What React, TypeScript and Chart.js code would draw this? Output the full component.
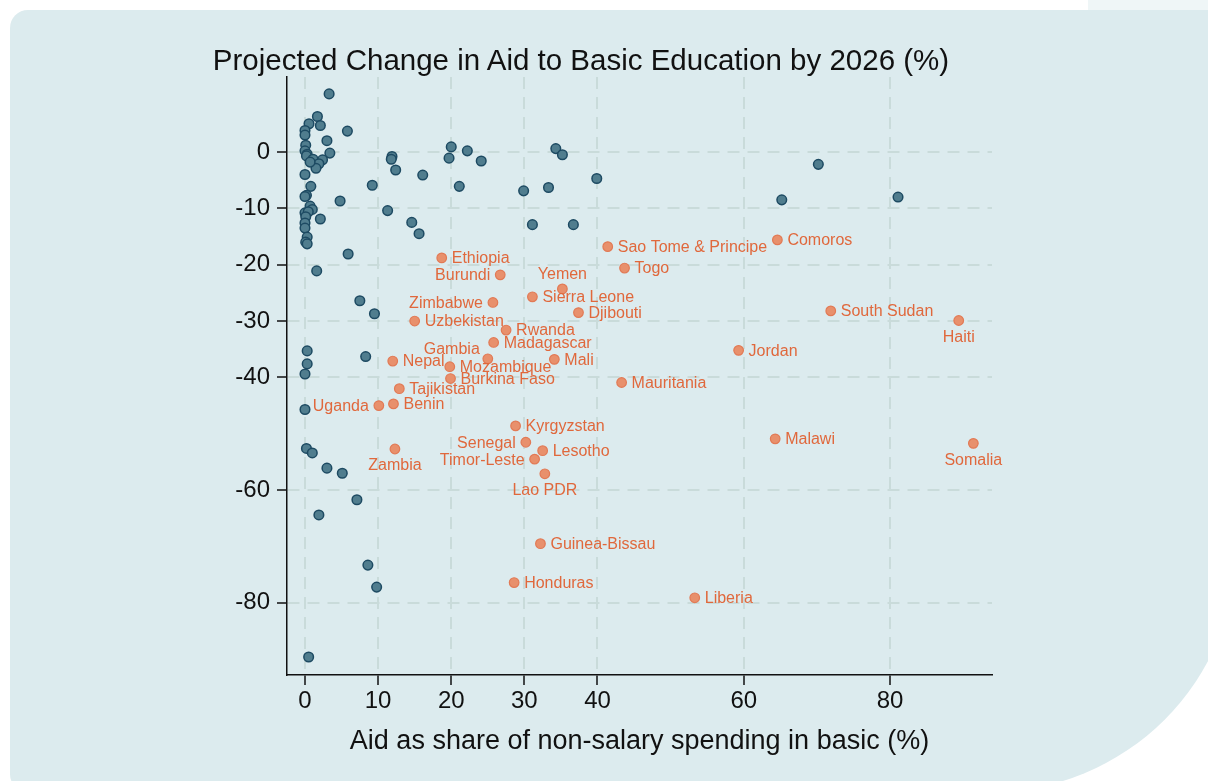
import React, { useEffect, useRef } from 'react';
import { Chart, registerables } from 'chart.js';

Chart.register(...registerables);

const FONT = '"Liberation Sans", Arial, Helvetica, sans-serif';

const chartTitle = 'Projected Change in Aid to Basic Education by 2026 (%)';
const xAxisTitle = 'Aid as share of non-salary spending in basic (%)';

const xTickValues = [0, 10, 20, 30, 40, 60, 80];
const yTickValues = [0, -10, -20, -30, -40, -60, -80];

// Unlabelled countries (dark markers)
const otherX = [
  3.3, 1.7, 0.55, 2.1, 5.8, 0.0, 0.0, 3.0, 0.1, 3.4, 0.0, 0.3, 0.2, 1.1, 2.4, 1.9, 1.5, 0.7, 0.0,
  11.9, 11.8, 12.4, 16.1, 20.0, 22.2, 19.7, 24.1, 21.1, 0.8, 9.2, 4.8, 0.2, 0.0, 0.7, 1.0, 0.0,
  0.45, 0.1, 0.0, 0.0, 0.3, 0.1, 0.3, 2.1, 11.3, 14.6, 15.6, 5.9, 1.6, 34.3, 35.2, 39.9, 29.9,
  33.3, 31.1, 36.7, 70.2, 65.2, 81.1, 7.5, 9.5, 0.3, 0.3, 0.0, 8.3, 0.0, 0.2, 1.0, 3.0, 5.1,
  7.1, 1.9, 8.6, 9.8, 0.5,
];
const otherY = [
  10.3, 6.3, 5.0, 4.7, 3.7, 3.8, 3.0, 2.0, 1.2, -0.2, 0.2, -0.4, -0.7, -1.3, -1.4, -2.1, -2.9, -1.8, -4.0,
  -0.8, -1.3, -3.2, -4.1, 0.9, 0.2, -1.1, -1.6, -6.1, -6.1, -5.9, -8.7, -7.7, -7.9, -9.6, -10.2, -10.8,
  -10.6, -11.5, -12.6, -13.5, -15.1, -16.0, -16.3, -11.9, -10.4, -12.5, -14.5, -18.1, -21.1, 0.6, -0.5, -4.7, -6.9,
  -6.3, -12.9, -12.9, -2.2, -8.5, -8.0, -26.4, -28.7, -35.3, -37.6, -39.4, -36.3, -45.7, -52.6, -53.4, -56.1, -57.0,
  -61.7, -64.4, -73.3, -77.2, -89.6,
];

// Labelled countries (orange markers)
const labeledNames = [
  'Ethiopia', 'Burundi', 'Yemen', 'Sierra Leone', 'Zimbabwe', 'Djibouti', 'Uzbekistan', 'Rwanda',
  'Madagascar', 'Gambia', 'Mali', 'Nepal', 'Mozambique', 'Burkina Faso', 'Tajikistan', 'Uganda',
  'Benin', 'Mauritania', 'Kyrgyzstan', 'Senegal', 'Lesotho', 'Timor-Leste', 'Lao PDR', 'Zambia',
  'Guinea-Bissau', 'Honduras', 'Liberia', 'Sao Tome & Principe', 'Togo', 'Comoros', 'South Sudan',
  'Haiti', 'Jordan', 'Malawi', 'Somalia',
];
const labeledX = [
  18.7, 26.7, 35.2, 31.1, 25.7, 37.4, 15.0, 27.5,
  25.8, 25.0, 34.1, 12.0, 19.8, 19.9, 12.9, 10.1,
  12.1, 43.3, 28.8, 30.2, 32.5, 31.4, 32.8, 12.3,
  32.2, 28.6, 53.3, 41.4, 43.7, 64.6, 71.9,
  89.4, 59.3, 64.3, 91.4,
];
const labeledY = [
  -18.8, -21.8, -24.3, -25.7, -26.7, -28.5, -30.0, -31.6,
  -33.8, -36.7, -36.8, -37.1, -38.1, -40.2, -42.0, -45.0,
  -44.7, -40.9, -48.6, -51.5, -53.0, -54.5, -57.1, -52.7,
  -69.5, -76.4, -79.1, -16.8, -20.6, -15.6, -28.2,
  -29.9, -35.2, -50.9, -51.7,
];

// Where each label sits relative to its marker (default: right)
const labelPlacement: Record<string, string> = {
  Burundi: 'left',
  Zimbabwe: 'left',
  Uganda: 'left',
  Senegal: 'left',
  'Timor-Leste': 'left',
  Gambia: 'upleft',
  Yemen: 'above',
  Zambia: 'below',
  'Lao PDR': 'below',
  Haiti: 'below',
  Somalia: 'below',
};

const ORANGE_TEXT = '#e0683c';

const labelPlugin = {
  id: 'countryLabels',
  afterDatasetsDraw(chart: any) {
    const meta = chart.getDatasetMeta(1);
    const ctx = chart.ctx;
    ctx.save();
    ctx.font = `16px ${FONT}`;
    ctx.fillStyle = ORANGE_TEXT;
    meta.data.forEach((el: any, i: number) => {
      const name = labeledNames[i];
      const place = labelPlacement[name] || 'right';
      let x = el.x;
      let y = el.y;
      ctx.textBaseline = 'middle';
      if (place === 'right') {
        ctx.textAlign = 'left';
        x += 10;
        y += 1;
      } else if (place === 'left') {
        ctx.textAlign = 'right';
        x -= 10;
        y += 1;
      } else if (place === 'above') {
        ctx.textAlign = 'center';
        y -= 14;
      } else if (place === 'below') {
        ctx.textAlign = 'center';
        y += 17;
      } else if (place === 'upleft') {
        ctx.textAlign = 'right';
        x -= 8;
        y -= 9;
      }
      ctx.fillText(name, x, y);
    });
    ctx.restore();
  },
};

export default function App() {
  const canvasRef = useRef<HTMLCanvasElement | null>(null);

  useEffect(() => {
    document.body.style.margin = '0';
    const canvas = canvasRef.current;
    if (!canvas) return;
    const gridColor = '#c9dbda';
    const chart = new Chart(canvas, {
      type: 'scatter',
      data: {
        datasets: [
          {
            data: otherX.map((x, i) => ({ x, y: otherY[i] })),
            backgroundColor: '#507d8e',
            borderColor: '#1d4a62',
            borderWidth: 1.5,
            pointRadius: 4.8,
          },
          {
            data: labeledX.map((x, i) => ({ x, y: labeledY[i] })),
            backgroundColor: '#e8906c',
            borderColor: '#e27a55',
            borderWidth: 1.2,
            pointRadius: 4.8,
          },
        ],
      },
      options: {
        responsive: false,
        animation: false,
        devicePixelRatio: 1,
        layout: { padding: { left: 187, right: 216, top: 77, bottom: 0 } },
        plugins: {
          legend: { display: false },
          tooltip: { enabled: false },
          title: { display: false },
        },
        scales: {
          x: {
            type: 'linear',
            min: -2.46,
            max: 93.95,
            afterBuildTicks: (s: any) => {
              s.ticks = xTickValues.map((v) => ({ value: v }));
            },
            afterFit: (s: any) => {
              s.height = 106;
            },
            grid: {
              color: gridColor,
              lineWidth: 2,
              tickLength: 10,
              tickColor: '#111',
              tickWidth: 1.5,
              tickBorderDash: [],
            },
            border: { display: true, color: '#111', width: 1.5, dash: [12, 8] },
            ticks: {
              color: '#111',
              font: { size: 24, family: FONT },
              padding: 2,
              autoSkip: false,
              maxRotation: 0,
              callback: (v: any) => String(v),
            },
            title: {
              display: true,
              text: xAxisTitle,
              color: '#111',
              font: { size: 27, family: FONT },
              padding: { top: 0, bottom: 23 },
            },
          },
          y: {
            type: 'linear',
            min: -92.8,
            max: 13.3,
            afterBuildTicks: (s: any) => {
              s.ticks = yTickValues.map((v) => ({ value: v }));
            },
            afterFit: (s: any) => {
              s.width = 100;
            },
            grid: {
              color: gridColor,
              lineWidth: 2,
              tickLength: 10,
              tickColor: '#111',
              tickWidth: 1.5,
              tickBorderDash: [],
            },
            border: { display: true, color: '#111', width: 1.5, dash: [12, 8] },
            ticks: {
              color: '#111',
              font: { size: 24, family: FONT },
              padding: 7,
              autoSkip: false,
              callback: (v: any) => String(v),
            },
          },
        },
      },
      plugins: [labelPlugin],
    } as any);
    return () => chart.destroy();
  }, []);

  return (
    <div>
      <div
        style={{
          position: 'fixed',
          left: 1088,
          top: 0,
          width: 120,
          height: 10,
          background: '#eff6f7',
        }}
      />
      <div
        style={{
          position: 'fixed',
          left: 10,
          top: 10,
          width: 1227,
          height: 782,
          background: '#dcebee',
          borderRadius: '18px 18px 247px 18px',
        }}
      />
      <canvas
        ref={canvasRef}
        width={1208}
        height={781}
        style={{ position: 'fixed', left: 0, top: 0, width: 1208, height: 781 }}
      />
      <div
        style={{
          position: 'fixed',
          left: 0,
          top: 45,
          width: 1162,
          textAlign: 'center',
          fontFamily: FONT,
          fontSize: 29.5,
          lineHeight: '30px',
          color: '#111',
          whiteSpace: 'nowrap',
        }}
      >
        {chartTitle}
      </div>
    </div>
  );
}
